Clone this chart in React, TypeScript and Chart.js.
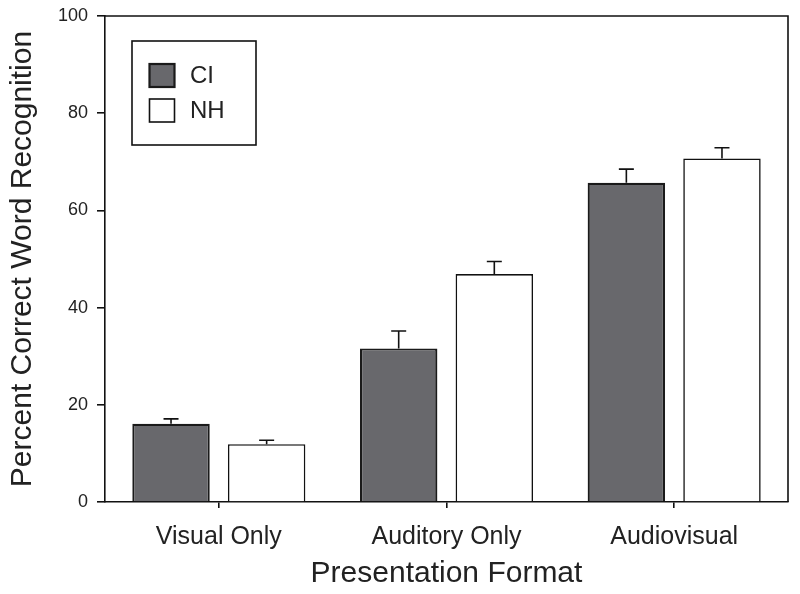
import React, { useEffect, useRef } from "react";
import { Chart, registerables } from "chart.js";

Chart.register(...registerables);

const categories = ["Visual Only", "Auditory Only", "Audiovisual"];
const seriesNames = ["CI", "NH"];
const ciValues = [16.1, 31.6, 65.7];
const ciErrors = [1.0, 3.6, 2.8];
const nhValues = [11.9, 46.9, 70.7];
const nhErrors = [0.8, 2.6, 2.2];
const yTicks = [0, 20, 40, 60, 80, 100];

const FONT = "'Liberation Sans', Arial, Helvetica, sans-serif";
const TEXT = "#222";

const errorBarPlugin = {
  id: "errorBars",
  afterDatasetsDraw(chart: any) {
    const ctx = chart.ctx;
    const yScale = chart.scales.y;
    chart.data.datasets.forEach((ds: any, di: number) => {
      const meta = chart.getDatasetMeta(di);
      const errs: number[] = ds.errors || [];
      meta.data.forEach((el: any, i: number) => {
        const v = ds.data[i];
        const e = errs[i];
        if (e == null) return;
        const yTop = yScale.getPixelForValue(v + e);
        const yBar = yScale.getPixelForValue(v);
        ctx.save();
        ctx.strokeStyle = "#111";
        ctx.lineWidth = 1.6;
        ctx.beginPath();
        ctx.moveTo(el.x, yBar);
        ctx.lineTo(el.x, yTop);
        ctx.moveTo(el.x - 7.5, yTop);
        ctx.lineTo(el.x + 7.5, yTop);
        ctx.stroke();
        ctx.restore();
      });
    });
  },
};

const frameLegendPlugin = {
  id: "frameLegend",
  afterDraw(chart: any) {
    const ctx = chart.ctx;
    const a = chart.chartArea;
    ctx.save();
    ctx.strokeStyle = "#111";
    ctx.lineWidth = 1.6;
    ctx.beginPath();
    ctx.moveTo(a.left, a.top);
    ctx.lineTo(a.right, a.top);
    ctx.lineTo(a.right, a.bottom);
    ctx.stroke();

    // legend box
    const bx = a.left + 27;
    const by = a.top + 25;
    const bw = 124;
    const bh = 104;
    ctx.fillStyle = "#fff";
    ctx.fillRect(bx, by, bw, bh);
    ctx.lineWidth = 1.6;
    ctx.strokeRect(bx, by, bw, bh);
    ctx.font = `24px ${FONT}`;
    ctx.textBaseline = "middle";
    ctx.textAlign = "left";
    chart.data.datasets.forEach((ds: any, i: number) => {
      const cy = by + 34.5 + i * 35;
      const sx = bx + 17.5;
      ctx.fillStyle = ds.backgroundColor;
      ctx.fillRect(sx, cy - 11.5, 25, 23);
      ctx.lineWidth = ds.borderWidth;
      ctx.strokeStyle = ds.borderColor;
      ctx.strokeRect(sx, cy - 11.5, 25, 23);
      ctx.fillStyle = TEXT;
      ctx.fillText(ds.label, bx + 58, cy + 1);
    });
    ctx.restore();
  },
};

export default function App() {
  const ref = useRef<HTMLCanvasElement>(null);
  useEffect(() => {
    if (!ref.current) return;
    const chart = new Chart(ref.current, {
      type: "bar",
      data: {
        labels: categories,
        datasets: [
          {
            label: seriesNames[0],
            data: ciValues,
            errors: ciErrors,
            backgroundColor: "#68686c",
            borderColor: "#1a1a1a",
            borderWidth: 2.2,
            categoryPercentage: 0.84,
            barPercentage: 0.81,
          } as any,
          {
            label: seriesNames[1],
            data: nhValues,
            errors: nhErrors,
            backgroundColor: "#ffffff",
            borderColor: "#111",
            borderWidth: 1.6,
            categoryPercentage: 0.84,
            barPercentage: 0.81,
          } as any,
        ],
      },
      options: {
        responsive: false,
        animation: false,
        devicePixelRatio: 1,
        layout: { padding: { left: 0, right: 12, top: 16, bottom: 0 } },
        plugins: { legend: { display: false }, tooltip: { enabled: false } },
        scales: {
          x: {
            grid: {
              offset: false,
              drawOnChartArea: false,
              drawTicks: true,
              tickLength: 6,
              color: "#111",
              lineWidth: 1.6,
            },
            border: { display: true, color: "#111", width: 1.6 },
            ticks: {
              padding: 14,
              color: TEXT,
              font: { family: FONT, size: 25 },
              maxRotation: 0,
            },
            title: {
              display: true,
              text: "Presentation Format",
              color: TEXT,
              font: { family: FONT, size: 30 },
              padding: { top: 0, bottom: 2 },
            },
            afterFit: (s: any) => {
              s.height = 92;
              s.paddingLeft = 0;
              s.paddingRight = 0;
            },
          },
          y: {
            min: 0,
            max: 100,
            afterBuildTicks: (s: any) => {
              s.ticks = yTicks.map((v) => ({ value: v }));
            },
            grid: {
              drawOnChartArea: false,
              drawTicks: true,
              tickLength: 8,
              color: "#111",
              lineWidth: 1.6,
            },
            border: { display: true, color: "#111", width: 1.6 },
            ticks: {
              padding: 9,
              color: TEXT,
              font: { family: FONT, size: 18 },
            },
            title: {
              display: true,
              text: "Percent Correct Word Recognition",
              color: TEXT,
              font: { family: FONT, size: 30 },
              padding: { top: 5, bottom: 0 },
            },
            afterFit: (s: any) => {
              s.width = 105;
              s.paddingTop = 0;
              s.paddingBottom = 0;
            },
          },
        },
      } as any,
      plugins: [errorBarPlugin, frameLegendPlugin],
    });
    return () => chart.destroy();
  }, []);
  return (
    <div style={{ position: "fixed", left: 0, top: 0, width: 800, height: 594, background: "#fff" }}>
      <canvas ref={ref} width={800} height={594} style={{ display: "block", width: 800, height: 594 }} />
    </div>
  );
}
